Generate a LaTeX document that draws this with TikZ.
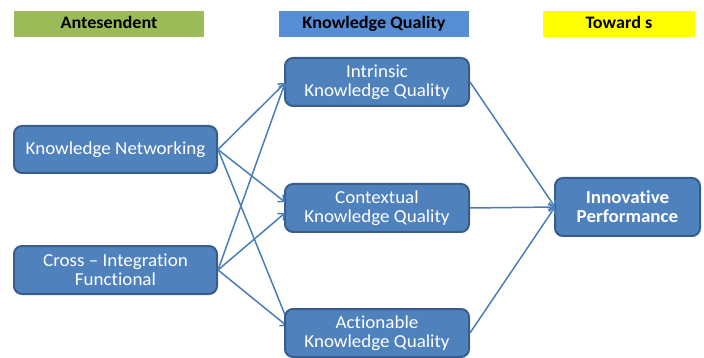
\documentclass[tikz,border=0pt]{standalone}
\usepackage{fontspec}
\setmainfont{Carlito}[FakeStretch=1.04, Ligatures=NoCommon]
\usetikzlibrary{arrows.meta}
\definecolor{nodefill}{HTML}{4F81BD}
\definecolor{nodeedge}{HTML}{385D8A}
\definecolor{hgreen}{HTML}{9BBB59}
\definecolor{hblue}{HTML}{558ED5}
\definecolor{hyellow}{HTML}{FFFF00}
\definecolor{linecol}{HTML}{4A7EBB}
\tikzset{
  header/.style={minimum width=#1, minimum height=26pt, inner sep=0pt, text height=12pt, text depth=3.5pt, font=\fontsize{17.5}{18}\selectfont\bfseries, text=black},
  box/.style={draw=nodeedge, line width=2pt, fill=nodefill, rounded corners=8pt, text=white, align=center, inner sep=0pt, font=\fontsize{18.3}{19}\selectfont},
  conn/.style={draw=linecol, line width=1.5pt, -{Straight Barb[length=5pt,width=9pt]}},
}
\begin{document}
\begin{tikzpicture}[x=1pt,y=-1pt]
\useasboundingbox (0,0) rectangle (704,358);
% headers
\node[header=190pt, fill=hgreen] (h1) at (109,24) {Antesendent};
\node[header=190pt, fill=hblue] (h2) at (374,24) {Knowledge Quality};
\node[header=152pt, fill=hyellow] (h3) at (619,24) {Toward s};
% boxes
\node[box, minimum width=203pt, minimum height=47pt] (kn) at (115.5,149.5) {Knowledge Networking};
\node[box, minimum width=203pt, minimum height=48pt] (cr) at (115.5,270) {Cross -- Integration\\Functional};
\node[box, minimum width=184pt, minimum height=48pt] (in) at (377,82) {Intrinsic\\Knowledge Quality};
\node[box, minimum width=184pt, minimum height=48pt] (ct) at (377,208) {Contextual\\Knowledge Quality};
\node[box, minimum width=145pt, minimum height=58pt, font=\fontsize{18.3}{19}\selectfont\bfseries] (ip) at (627.5,207) {Innovative\\Performance};
% target points
\coordinate (inT) at (285,83);
\coordinate (ctT1) at (285,202);
\coordinate (ctT2) at (285,213);
\coordinate (acT1) at (292,332);
\coordinate (acT2) at (287,326);
\coordinate (ipT) at (555,207);
% connectors
\draw[conn] (kn.east) -- (inT);
\draw[conn] (kn.east) -- (ctT1);
\draw[conn] (cr.east) -- (inT);
\draw[conn] (cr.east) -- (ctT2);
\draw[conn] (cr.east) -- (acT2);
\draw[conn] (kn.east) -- (acT1);
\draw[conn] (in.east) -- (ipT);
\draw[conn] (ct.east) -- (ipT);
% actionable drawn over the arrows that end inside it
\node[box, minimum width=184pt, minimum height=48pt] (ac) at (377,333) {Actionable\\Knowledge Quality};
\draw[conn] (ac.east) -- (ipT);
\end{tikzpicture}
\end{document}
